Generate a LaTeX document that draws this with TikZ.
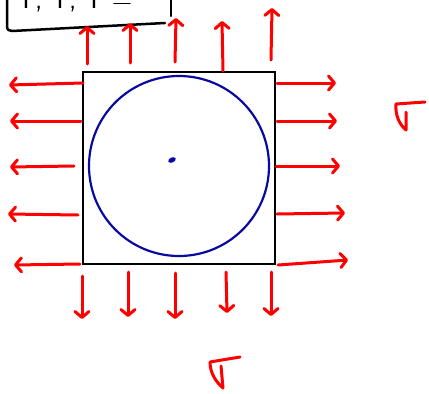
\documentclass[tikz,border=0pt]{standalone}
\usetikzlibrary{arrows.meta}
\definecolor{inkred}{RGB}{255,0,0}
\definecolor{inkblue}{RGB}{10,10,160}
\begin{document}
\begin{tikzpicture}[x=1pt,y=-1pt,
  force/.style={draw=inkred,line width=3pt,line cap=round,line join=round,
    -{Straight Barb[length=6pt,width=14pt,round]}},
  stroke/.style={draw=inkred,line width=3pt,line cap=round,line join=round},
  blackink/.style={draw=black,line width=2.5pt,line cap=round,line join=round},
  blueink/.style={draw=inkblue,line width=2.2pt}]
\useasboundingbox (0,0) rectangle (429,394);
% partially visible label box
\begin{scope}
\clip (0,0) rectangle (429,394);
\node[anchor=base west,inner sep=0pt,font=\sffamily\fontsize{28}{30}\selectfont] (lbl) at (17,8) {T, T, T =};
\end{scope}
\draw[blackink] (7,0) -- (7,26) .. controls (7,30) and (9,31) .. (12,31) -- (165,23);
\draw[blackink] (171,0) -- (171,16);
% square and circle
\node[draw=black,line width=2.5pt,minimum width=192pt,minimum height=192pt,inner sep=0pt] (sq) at (179,168) {};
\node[blueink,circle,minimum size=180pt,inner sep=0pt] (circ) at (179,166) {};
\fill[inkblue,rotate around={25:(172,160)}] (172,160) ellipse (4pt and 2.5pt);
% top arrows
\coordinate (t1a) at (87,64); \coordinate (t1b) at (87,26);
\coordinate (t2a) at (130,63); \coordinate (t2b) at (130,23);
\coordinate (t3a) at (175,62); \coordinate (t3b) at (176,18);
\coordinate (t4a) at (223,71); \coordinate (t4b) at (222,21);
\coordinate (t5a) at (271,60); \coordinate (t5b) at (272,8);
\foreach \i in {1,...,5} {\draw[force] (t\i a) -- (t\i b);}
% left arrows
\coordinate (l1a) at (83,83); \coordinate (l1b) at (9,85);
\coordinate (l2a) at (81,121); \coordinate (l2b) at (10,121);
\coordinate (l3a) at (74,166); \coordinate (l3b) at (10,167);
\coordinate (l4a) at (78,215); \coordinate (l4b) at (8,214);
\coordinate (l5a) at (80,264); \coordinate (l5b) at (14,265);
\foreach \i in {1,...,5} {\draw[force] (l\i a) -- (l\i b);}
% right arrows
\coordinate (r1a) at (277,83); \coordinate (r1b) at (336,83);
\coordinate (r2a) at (277,121); \coordinate (r2b) at (337,121);
\coordinate (r3a) at (276,166); \coordinate (r3b) at (340,166);
\coordinate (r4a) at (277,214); \coordinate (r4b) at (345,213);
\coordinate (r5a) at (278,265); \coordinate (r5b) at (348,260);
\foreach \i in {1,...,5} {\draw[force] (r\i a) -- (r\i b);}
% bottom arrows
\coordinate (b1a) at (82,276); \coordinate (b1b) at (82,319);
\coordinate (b2a) at (128,272); \coordinate (b2b) at (128,317);
\coordinate (b3a) at (175,273); \coordinate (b3b) at (175,319);
\coordinate (b4a) at (226,272); \coordinate (b4b) at (227,313);
\coordinate (b5a) at (271,272); \coordinate (b5b) at (271,316);
\foreach \i in {1,...,5} {\draw[force] (b\i a) -- (b\i b);}
% sigma glyphs
\draw[stroke] (425,102) -- (396,104) .. controls (395,116) and (400,125) .. (406,130) -- (406,112);
\draw[stroke] (240,357) -- (210,362) .. controls (210,373) and (216,382) .. (223,388) -- (221,366);
\end{tikzpicture}
\end{document}
